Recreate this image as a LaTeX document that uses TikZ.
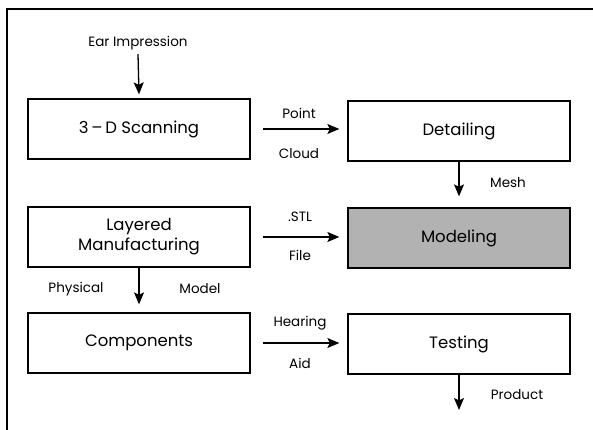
\documentclass[tikz,border=0pt]{standalone}
\usepackage{fontspec}
\setmainfont{Poppins}
\usetikzlibrary{arrows.meta}
\begin{document}
\begin{tikzpicture}[x=1pt,y=-1pt,
  stepbox/.style={draw,line width=1.3pt,minimum width=222pt,minimum height=60pt,inner sep=0pt,align=center,font=\fontsize{16.5}{20}\selectfont},
  lbl/.style={font=\fontsize{13.5}{15}\selectfont,inner sep=0pt},
  arr/.style={line width=1.3pt,-{Stealth[length=12pt,width=10pt,inset=2.5pt]}}]
\useasboundingbox (0,0) rectangle (593,430);
\draw[line width=1.2pt] (7,430) -- (7,9) -- (593,9);
% boxes
\node[stepbox] (scan) at (139,129) {3\,--\,D Scanning};
\node[stepbox] (det) at (459,131) {Detailing};
\node[stepbox] (lay) at (139,237) {Layered\\Manufacturing};
\node[stepbox,fill=black!30] (mod) at (459,238) {Modeling};
\node[stepbox] (comp) at (139,343) {Components};
\node[stepbox] (test) at (459,344) {Testing};
% input
\node[lbl] (ear) at (138,43) {Ear Impression};
\draw[arr] ([yshift=-4pt]ear.south) -- ([yshift=4pt]scan.north);
% horizontal
\draw[arr] ([xshift=12pt]scan.east) -- ([xshift=-8pt]scan.east -| det.west);
\node[lbl] (pt) at (299,113) {Point};
\node[lbl] (cl) at (299,154) {Cloud};
\draw[arr] ([xshift=12pt]lay.east) -- ([xshift=-8pt]lay.east -| mod.west);
\node[lbl] (stl) at (300,217) {.STL};
\node[lbl] (file) at (300,255) {File};
\draw[arr] ([xshift=12pt]comp.east) -- ([xshift=-8pt]comp.east -| test.west);
\node[lbl] (hear) at (300,323) {Hearing};
\node[lbl] (aid) at (300,363) {Aid};
% vertical
\draw[arr] (det.south) -- ([yshift=11pt]mod.north);
\node[lbl] (mesh) at (508,183) {Mesh};
\draw[arr] (lay.south) -- ([yshift=8pt]comp.north);
\node[lbl] (phys) at (76,289) {Physical};
\node[lbl] (model) at (200,289) {Model};
\coordinate (prodend) at (459,410);
\draw[arr] (test.south) -- (prodend);
\node[lbl] (prod) at (517,395) {Product};
\end{tikzpicture}
\end{document}
